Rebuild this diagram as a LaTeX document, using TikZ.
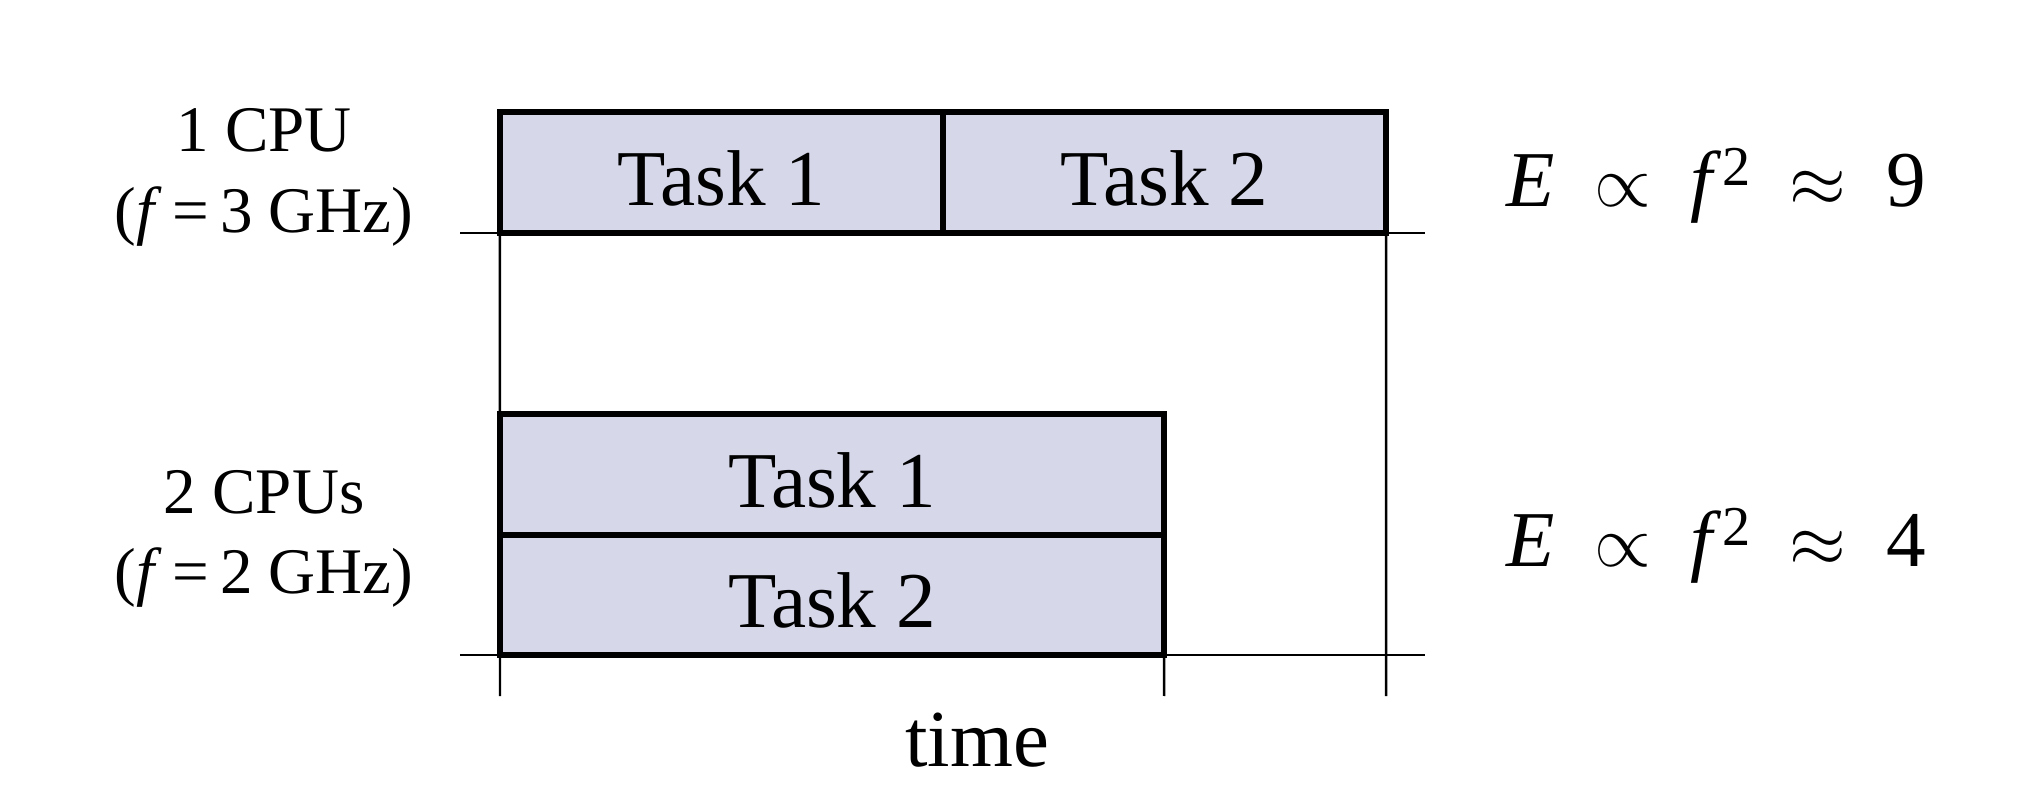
\documentclass[tikz,border=0pt]{standalone}
\usepackage{fontspec}
\setmainfont{Liberation Serif}
\usepackage{tikz}
\definecolor{taskfill}{RGB}{214,215,233}

\begin{document}
\begin{tikzpicture}[x=0.01cm, y=0.01cm,
        taskbox/.style={rectangle, draw, line width=1.7pt, fill=taskfill, inner sep=0pt, outer sep=0pt, text height=18.7pt, text depth=0pt, font=\fontsize{22.5}{26}\selectfont},
        axisline/.style={line width=0.7pt},
        cpulabel/.style={anchor=base, inner sep=0pt, font=\fontsize{18.5}{22}\selectfont},
        energy/.style={anchor=base west, inner sep=0pt, font=\fontsize{22.5}{26}\selectfont}]
            \useasboundingbox (0,0) rectangle (2022,788);
            % time axes
            \coordinate (top0) at (460, 555);
            \coordinate (top1) at (1425, 555);
            \coordinate (bot0) at (460, 133);
            \coordinate (bot1) at (1425, 133);
            \coordinate (tick0) at (500, 92);
            \coordinate (tick1) at (1164, 92);
            \coordinate (tick2) at (1386, 92);
            % one cpu
            \node (cpu1t1) at (721.5, 615.5) [taskbox, minimum width=4.43cm, minimum height=1.21cm] {Task 1};
            \node (cpu1t2) at (1164.5, 615.5) [taskbox, minimum width=4.43cm, minimum height=1.21cm] {Task 2};
            % two cpus
            \node (cpu2t1) at (832, 313.5) [taskbox, minimum width=6.64cm, minimum height=1.21cm] {Task 1};
            \node (cpu2t2) at (832, 193) [taskbox, minimum width=6.64cm, minimum height=1.20cm] {Task 2};
            \draw [axisline] (top0) edge (top1);
            \draw [axisline] (bot0) edge (bot1);
            \draw [axisline] (cpu1t1.south west) edge (tick0);
            \draw [axisline] (cpu1t2.south east) edge (tick2);
            \draw [axisline] (cpu2t2.south east) edge (tick1);
            % labels
            \node (cpu1) at (264, 636) [cpulabel] {1 CPU};
            \node (freq1) at (264, 555) [cpulabel] {(\textit{f}\,=\,3 GHz)};
            \node (cpu2) at (264, 274) [cpulabel] {2 CPUs};
            \node (freq2) at (264, 194) [cpulabel] {(\textit{f}\,=\,2 GHz)};
            \node (e1) at (1506, 581) [energy] {\textit{E}\hspace{0.5em}$\propto$\hspace{0.5em}\textit{f}\raisebox{0.6ex}{\fontsize{16}{18}\selectfont 2}\hspace{0.5em}$\approx$\hspace{0.5em}9};
            \node (e2) at (1506, 221) [energy] {\textit{E}\hspace{0.5em}$\propto$\hspace{0.5em}\textit{f}\raisebox{0.6ex}{\fontsize{16}{18}\selectfont 2}\hspace{0.5em}$\approx$\hspace{0.5em}4};
            \node (time) at (977, 22) [anchor=base, inner sep=0pt, font=\fontsize{23}{27}\selectfont] {time};
        \end{tikzpicture}
\end{document}
